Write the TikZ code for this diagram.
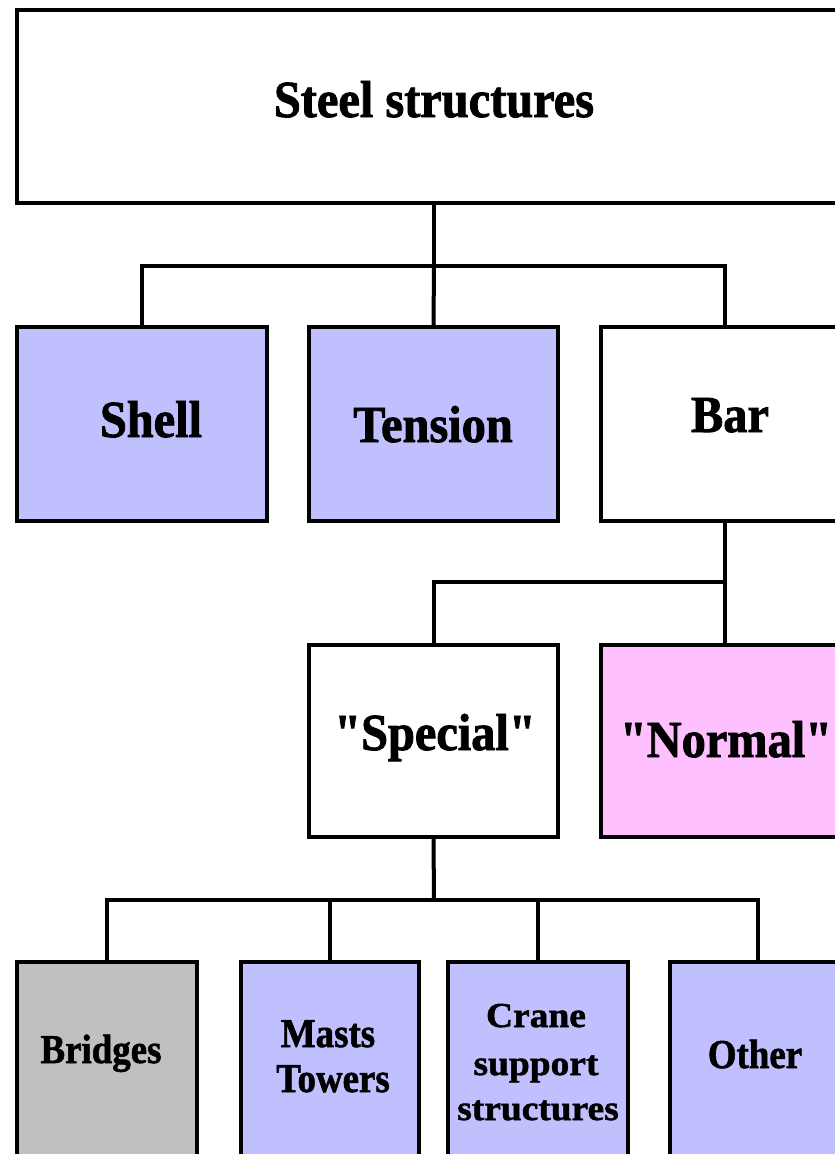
\documentclass[tikz,border=0pt]{standalone}
\usepackage{fontspec}
% heavy serif faces for the three tiers of labels
\newfontfamily\headfont[FakeStretch=0.93,Ligatures=TeXOff,BoldFeatures={FakeBold=1.6}]{Liberation Serif}
\newfontfamily\leaffont[FakeStretch=0.90,Ligatures=TeXOff,BoldFeatures={FakeBold=1.4}]{Liberation Serif}
\newfontfamily\widefont[FakeStretch=1.07,Ligatures=TeXOff,BoldFeatures={FakeBold=1.4}]{Liberation Serif}
\definecolor{lav}{HTML}{C0C0FF}
\definecolor{pinkish}{HTML}{FFC0FF}
\definecolor{greybox}{HTML}{C0C0C0}
\begin{document}
\begin{tikzpicture}[x=1pt,y=-1pt,
  box/.style={draw=black,line width=4pt,rectangle,inner sep=0pt,fill=white},
  link/.style={draw=black,line width=4pt},
  headtxt/.style={anchor=base,inner sep=0pt,font=\headfont\bfseries\fontsize{52}{56}\selectfont},
  leaftxt/.style={anchor=base,inner sep=0pt,font=\leaffont\bfseries\fontsize{41}{45}\selectfont},
  widetxt/.style={anchor=base,inner sep=0pt,font=\widefont\bfseries\fontsize{35}{39}\selectfont}]
\useasboundingbox (0,0) rectangle (835,1154);
\clip (0,0) rectangle (835,1154);
\fill[white] (0,0) rectangle (835,1154);

% boxes
\node[box,minimum width=834pt,minimum height=193pt] (steel) at (434,106.5) {};
\node[box,fill=lav,minimum width=250pt,minimum height=194pt] (shell) at (142,424) {};
\node[box,fill=lav,minimum width=249pt,minimum height=194pt] (tension) at (433.5,424) {};
\node[box,minimum width=248pt,minimum height=194pt] (bar) at (725,424) {};
\node[box,minimum width=249pt,minimum height=192pt] (special) at (433.5,741) {};
\node[box,fill=pinkish,minimum width=248pt,minimum height=192pt] (normal) at (725,741) {};
\node[box,fill=greybox,minimum width=180pt,minimum height=198pt] (bridges) at (107,1061) {};
\node[box,fill=lav,minimum width=178pt,minimum height=198pt] (masts) at (330,1061) {};
\node[box,fill=lav,minimum width=180pt,minimum height=198pt] (crane) at (538,1061) {};
\node[box,fill=lav,minimum width=176pt,minimum height=198pt] (other) at (758,1061) {};

% labels
\node[headtxt] (steel-t) at (434,117) {Steel structures};
\node[headtxt] (shell-t) at (151,437) {Shell};
\node[headtxt] (tension-t) at (433,442) {Tension};
\node[headtxt] (bar-t) at (730,432) {Bar};
\node[headtxt] (special-t) at (435,750) {"Special"};
\node[headtxt] (normal-t) at (726,757) {"Normal"};
\node[leaftxt] (bridges-t) at (101,1063) {Bridges};
\node[leaftxt] (masts-t) at (328,1047) {Masts};
\node[leaftxt] (towers-t) at (333,1092) {Towers};
\node[widetxt] (crane-t) at (536,1027) {Crane};
\node[widetxt] (support-t) at (536,1075) {support};
\node[widetxt] (structures-t) at (538,1120) {structures};
\node[leaftxt] (other-t) at (755,1068) {Other};

% junctions of the connector buses
\coordinate (j1) at (434,266);
\coordinate (j2) at (725,582);
\coordinate (j3) at (434,900);

% tier 1 -> tier 2
\draw[link] (steel.south) -- (j1);
\draw[link] (shell.north) |- (j1) -| (bar.north);
\draw[link] (j1) -- (tension.north);

% Bar -> Special / Normal
\draw[link] (bar.south) -- (j2) -- (normal.north);
\draw[link] (j2) -| (special.north);

% Special -> leaves
\draw[link] (special.south) -- (j3);
\draw[link] (bridges.north) |- (j3) -| (other.north);
\draw[link] (masts.north) -- (masts.north |- j3);
\draw[link] (crane.north) -- (crane.north |- j3);
\end{tikzpicture}
\end{document}
